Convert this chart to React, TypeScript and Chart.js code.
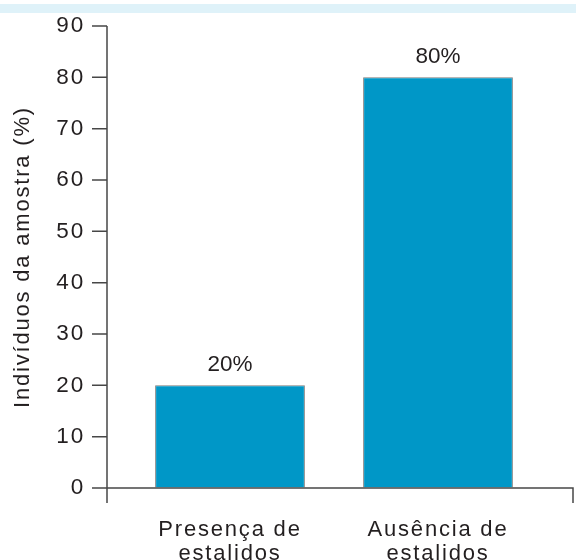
import { useEffect, useRef } from 'react';
import { Chart, registerables } from 'chart.js';

Chart.register(...registerables);

const categories: string[][] = [
  ['Presença de', 'estalidos'],
  ['Ausência de', 'estalidos'],
];
const values: number[] = [20, 80];
const valueLabels: string[] = ['20%', '80%'];
const yMin = 0;
const yMax = 90;
const yStep = 10;
const yTitle = 'Indivíduos da amostra (%)';

const FONT = '"Liberation Sans", Arial, Helvetica, sans-serif';
const TEXT = '#231f20';
const AXIS = '#474747';
const BAR = '#0097c7';

const setSpacing = (ctx: any, v: string) => {
  try {
    ctx.letterSpacing = v;
  } catch (e) {
    /* ignore */
  }
};

const customAxes = {
  id: 'customAxes',
  beforeDraw(chart: any) {
    const { ctx, width, height } = chart;
    ctx.save();
    ctx.fillStyle = '#ffffff';
    ctx.fillRect(0, 0, width, height);
    ctx.fillStyle = '#dff2f9';
    ctx.fillRect(0, 4, width, 9);
    ctx.restore();
    setSpacing(ctx, '1.8px');
  },
  beforeDatasetsDraw(chart: any) {
    setSpacing(chart.ctx, '0px');
  },
  afterDatasetsDraw(chart: any) {
    const { ctx } = chart;
    const meta = chart.getDatasetMeta(0);
    ctx.save();
    ctx.fillStyle = TEXT;
    ctx.font = `22.5px ${FONT}`;
    ctx.textAlign = 'center';
    ctx.textBaseline = 'alphabetic';
    meta.data.forEach((bar: any, i: number) => {
      ctx.fillText(valueLabels[i], bar.x, bar.y - 14);
    });
    ctx.restore();
    setSpacing(ctx, '1.8px');
  },
  afterDraw(chart: any) {
    const { ctx, chartArea } = chart;
    const ys = chart.scales.y;
    const axisX = chartArea.left - 19;
    const rightX = chartArea.right + 31;
    const y0 = ys.getPixelForValue(yMin);
    const yTop = ys.getPixelForValue(yMax);
    const ext = y0 + 15;
    ctx.save();
    ctx.strokeStyle = AXIS;
    ctx.lineWidth = 1.5;
    ctx.beginPath();
    ctx.moveTo(axisX, yTop);
    ctx.lineTo(axisX, ext);
    ctx.moveTo(axisX, y0);
    ctx.lineTo(rightX, y0);
    ctx.lineTo(rightX, ext);
    ys.ticks.forEach((t: any) => {
      const py = ys.getPixelForValue(t.value);
      ctx.moveTo(axisX - 15, py);
      ctx.lineTo(axisX, py);
    });
    ctx.stroke();
    ctx.restore();
  },
};

export default function App() {
  const ref = useRef<HTMLCanvasElement | null>(null);

  useEffect(() => {
    if (!ref.current) return;
    const chart = new Chart(ref.current, {
      type: 'bar',
      data: {
        labels: categories,
        datasets: [
          {
            data: values,
            backgroundColor: BAR,
            borderColor: '#7d7d7d',
            borderWidth: 1,
            barPercentage: 0.72,
            categoryPercentage: 1,
          },
        ],
      },
      options: {
        responsive: false,
        animation: false,
        layout: { padding: { top: 26, right: 34, bottom: 0, left: 0 } },
        plugins: {
          legend: { display: false },
          tooltip: { enabled: false },
        },
        scales: {
          x: {
            grid: { display: false, drawTicks: false },
            border: { display: false },
            ticks: {
              z: 1,
              color: TEXT,
              padding: 30,
              font: { family: FONT, size: 22, lineHeight: '24px' },
              maxRotation: 0,
              autoSkip: false,
            },
            afterFit: (scale: any) => {
              scale.height = 72;
            },
          },
          y: {
            min: yMin,
            max: yMax,
            grid: {
              display: true,
              drawOnChartArea: false,
              drawTicks: true,
              tickLength: 36,
              color: 'rgba(0,0,0,0)',
            },
            border: { display: false },
            ticks: {
              z: 1,
              stepSize: yStep,
              color: TEXT,
              padding: 5,
              font: { family: FONT, size: 22.5 },
            },
            title: {
              display: true,
              text: yTitle,
              color: TEXT,
              font: { family: FONT, size: 22 },
              padding: { top: 10, bottom: 0 },
            },
            afterFit: (scale: any) => {
              scale.width = 126;
            },
          },
        },
      },
      plugins: [customAxes],
    });
    return () => chart.destroy();
  }, []);

  return (
    <div style={{ position: 'absolute', left: 0, top: 0, width: 576, height: 560 }}>
      <canvas ref={ref} width={576} height={560} style={{ display: 'block' }} />
    </div>
  );
}
